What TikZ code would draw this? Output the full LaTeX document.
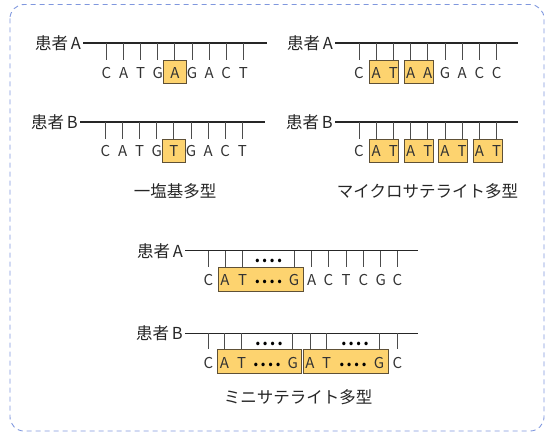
\documentclass[tikz,border=0pt]{standalone}
\usepackage{fontspec}
\setmainfont{Noto Sans CJK JP}
\definecolor{framec}{HTML}{7F97DE}
\definecolor{hlfill}{HTML}{FDD36F}
\definecolor{hldraw}{HTML}{5E5036}
\definecolor{txt}{HTML}{333333}
\begin{document}
\begin{tikzpicture}[x=1pt,y=-1pt,
  font=\fontsize{15}{17}\selectfont,
  frame/.style={draw=framec,line width=0.9pt,dash pattern=on 5pt off 4pt,rounded corners=14pt},
  seqline/.style={line width=1.1pt,draw=black!85},
  tickline/.style={line width=1pt,draw=black!70},
  base/.style={text=txt,inner sep=0pt,anchor=base},
  lbl/.style={text=black!85,inner sep=0pt,anchor=base east,font=\fontsize{16.5}{18}\selectfont},
  ttl/.style={text=black!85,inner sep=0pt,anchor=base,font=\fontsize{16.5}{18}\selectfont},
  hl/.style={draw=hldraw,fill=hlfill,line width=0.8pt},
  dotsn/.style={text=black,inner sep=0pt,anchor=base,font=\fontsize{16}{18}\selectfont}]
\newcommand{\fourdots}{\textbf{.}\hspace{1.8pt}\textbf{.}\hspace{1.8pt}\textbf{.}\hspace{1.8pt}\textbf{.}}
\useasboundingbox (0,0) rectangle (548,433);
\draw[frame] (10,4.5) rectangle (544,431);

% ---------- Panel 1 : SNP ----------
\node[lbl] (l1a) at (81,49.5) {患者\,A};
\draw[seqline] (83,43) -- (267,43);
\draw[hl] (163.4,60) rectangle (186.4,83);
\foreach \l [count=\i from 0] in {C,A,T,G,A,G,A,C,T}{
  \draw[tickline] ({106.5+17.1*\i},43) -- ++(0,17);
  \node[base] (s1a\i) at ({106.5+17.1*\i},78.5) {\l};
}
\node[lbl] (l1b) at (78,128.5) {患者\,B};
\draw[seqline] (80,122) -- (265,122);
\draw[hl] (162.4,139) rectangle (185.4,162);
\foreach \l [count=\i from 0] in {C,A,T,G,T,G,A,C,T}{
  \draw[tickline] ({105.5+17.1*\i},122) -- ++(0,17);
  \node[base] (s1b\i) at ({105.5+17.1*\i},156.5) {\l};
}
\node[ttl] (t1) at (175,197.5) {一塩基多型};

% ---------- Panel 2 : microsatellite ----------
\node[lbl] (l2a) at (333,49.5) {患者\,A};
\draw[seqline] (335,43) -- (518,43);
\foreach \k in {0,1}{
  \draw[hl] ({369.7+34.4*\k},60) rectangle ({398.7+34.4*\k},83);
}
\foreach \l [count=\i from 0] in {C,A,T,A,A,G,A,C,C}{
  \draw[tickline] ({359+17.2*\i},43) -- ++(0,17);
  \node[base] (s2a\i) at ({359+17.2*\i},78.5) {\l};
}
\node[lbl] (l2b) at (333,128.5) {患者\,B};
\draw[seqline] (335,122) -- (518,122);
\foreach \k in {0,1,2,3}{
  \draw[hl] ({369.7+34.4*\k},139) rectangle ({398.7+34.4*\k},162);
}
\foreach \l [count=\i from 0] in {C,A,T,A,T,A,T,A,T}{
  \draw[tickline] ({359+17.2*\i},122) -- ++(0,17);
  \node[base] (s2b\i) at ({359+17.2*\i},156.5) {\l};
}
\node[ttl] (t2) at (427.5,197.5) {マイクロサテライト多型};

% ---------- Panel 3 : minisatellite ----------
\node[lbl] (l3a) at (183,257) {患者\,A};
\draw[seqline] (185,250.7) -- (418,250.7);
\draw[hl] (218,267) rectangle (303,291);
\foreach \x/\l/\n in {208.3/C/0,225/A/1,242.7/T/2,294/G/3,311.7/A/4,328.3/C/5,346/T/6,363.3/C/7,380.7/G/8,397.3/C/9}{
  \draw[tickline] (\x,250.7) -- (\x,267);
  \node[base] (s3a\n) at (\x,285.5) {\l};
}
\node[dotsn] (d3a1) at (268.5,262.5) {\fourdots};
\node[dotsn] (d3a2) at (268.5,283.5) {\fourdots};

\node[lbl] (l3b) at (183,339.6) {患者\,B};
\draw[seqline] (185,333.3) -- (418,333.3);
\draw[hl] (217.3,349.3) rectangle (301.7,373.3);
\draw[hl] (303.3,349.3) rectangle (388.3,373.3);
\foreach \x/\l/\n in {208.3/C/0,224.5/A/1,241.7/T/2,292.7/G/3,310/A/4,326.7/T/5,379/G/6,397.3/C/7}{
  \draw[tickline] (\x,333.3) -- (\x,349.3);
  \node[base] (s3b\n) at (\x,368.8) {\l};
}
\node[dotsn] (d3b1) at (269,345.5) {\fourdots};
\node[dotsn] (d3b2) at (267,366.5) {\fourdots};
\node[dotsn] (d3b3) at (355,345.5) {\fourdots};
\node[dotsn] (d3b4) at (353,366.5) {\fourdots};
\node[ttl] (t3) at (298,403.5) {ミニサテライト多型};
\end{tikzpicture}
\end{document}
